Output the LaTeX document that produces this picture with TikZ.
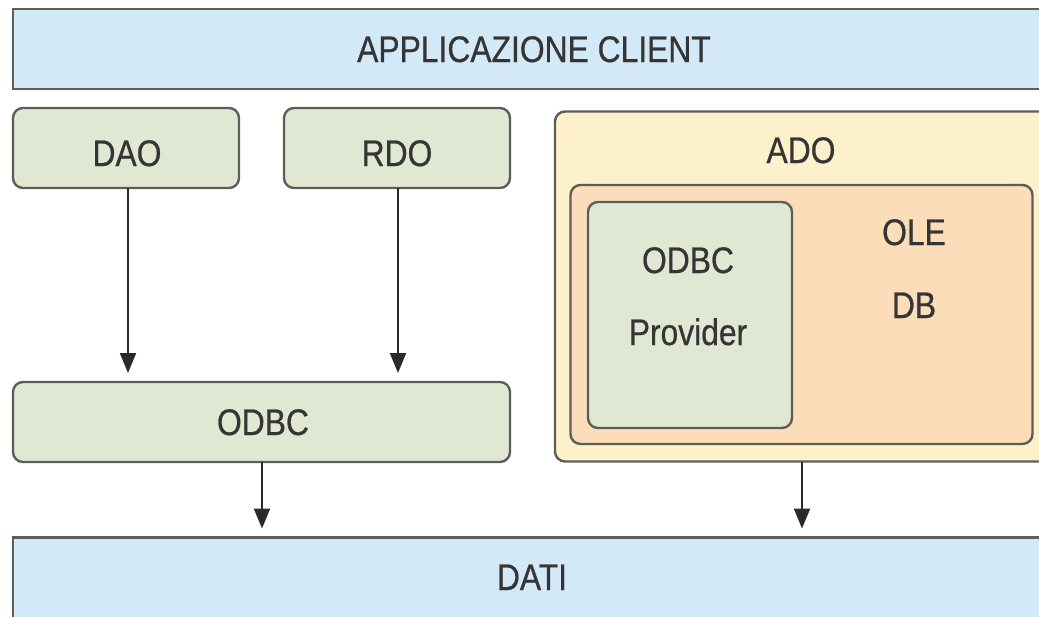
\documentclass[tikz,border=0pt]{standalone}
\usepackage{fontspec}
\setmainfont{Liberation Sans}[FakeStretch=0.86,FakeBold=0.6]
\usetikzlibrary{arrows.meta}
\definecolor{bluec}{HTML}{D4E9F8}
\definecolor{greenc}{HTML}{E0E8D3}
\definecolor{yellowc}{HTML}{FDF1CC}
\definecolor{peachc}{HTML}{FBDDB9}
\definecolor{bordc}{HTML}{5E5E58}
\definecolor{txtc}{HTML}{353535}
\definecolor{arrc}{HTML}{2A2A2A}
\begin{document}
\begin{tikzpicture}[x=1pt,y=-1pt,
  box/.style={draw=bordc, line width=2.4pt, inner sep=0pt, outer sep=0pt},
  rbox/.style={box, rounded corners=10pt},
  txt/.style={anchor=base, inner sep=0pt, text=txtc, font=\fontsize{37}{40}\selectfont},
  arr/.style={draw=arrc, line width=2.2pt, -{Triangle[width=16pt,length=20pt]}}]
\useasboundingbox (0,0) rectangle (1039,616);
\clip (0,0) rectangle (1039,616);
\fill[white] (0,0) rectangle (1039,616);
% boxes
\node[box, fill=bluec, minimum width=1040pt, minimum height=80pt] (app) at (533,49) {};
\node[rbox, fill=greenc, minimum width=226pt, minimum height=80pt] (dao) at (126,148) {};
\node[rbox, fill=greenc, minimum width=226pt, minimum height=80pt] (rdo) at (397,148) {};
\node[rbox, fill=greenc, minimum width=497pt, minimum height=80pt] (odbc) at (261.5,422) {};
\node[rbox, fill=yellowc, minimum width=498pt, minimum height=350pt] (ado) at (804,286.5) {};
\node[rbox, fill=peachc, minimum width=462pt, minimum height=259pt] (oledb) at (801.5,314.5) {};
\node[rbox, fill=greenc, minimum width=204pt, minimum height=226pt] (prov) at (690,315) {};
\node[box, fill=bluec, minimum width=1040pt, minimum height=95pt] (dati) at (533,585) {};
% texts
\node[txt] (tapp) at (534,62) {APPLICAZIONE CLIENT};
\node[txt] (tdao) at (127,166) {DAO};
\node[txt] (trdo) at (397,166) {RDO};
\node[txt] (tado) at (801,163) {ADO};
\node[txt] (tpa) at (688,273) {ODBC};
\node[txt] (tpb) at (688,345) {Provider};
\node[txt] (tole) at (914,245) {OLE};
\node[txt] (tdb) at (914,318) {DB};
\node[txt] (todbc) at (263,435) {ODBC};
\node[txt] (tdati) at (532,590) {DATI};
% arrows
\coordinate (c1) at (128,0);
\coordinate (c2) at (398,0);
\coordinate (c3) at (262,0);
\coordinate (c4) at (802,0);
\draw[arr, shorten >=9pt] (c1 |- dao.south) -- (c1 |- odbc.north);
\draw[arr, shorten >=9pt] (c2 |- rdo.south) -- (c2 |- odbc.north);
\draw[arr, shorten >=9pt] (c3 |- odbc.south) -- (c3 |- dati.north);
\draw[arr, shorten >=9pt] (c4 |- ado.south) -- (c4 |- dati.north);
\end{tikzpicture}
\end{document}
